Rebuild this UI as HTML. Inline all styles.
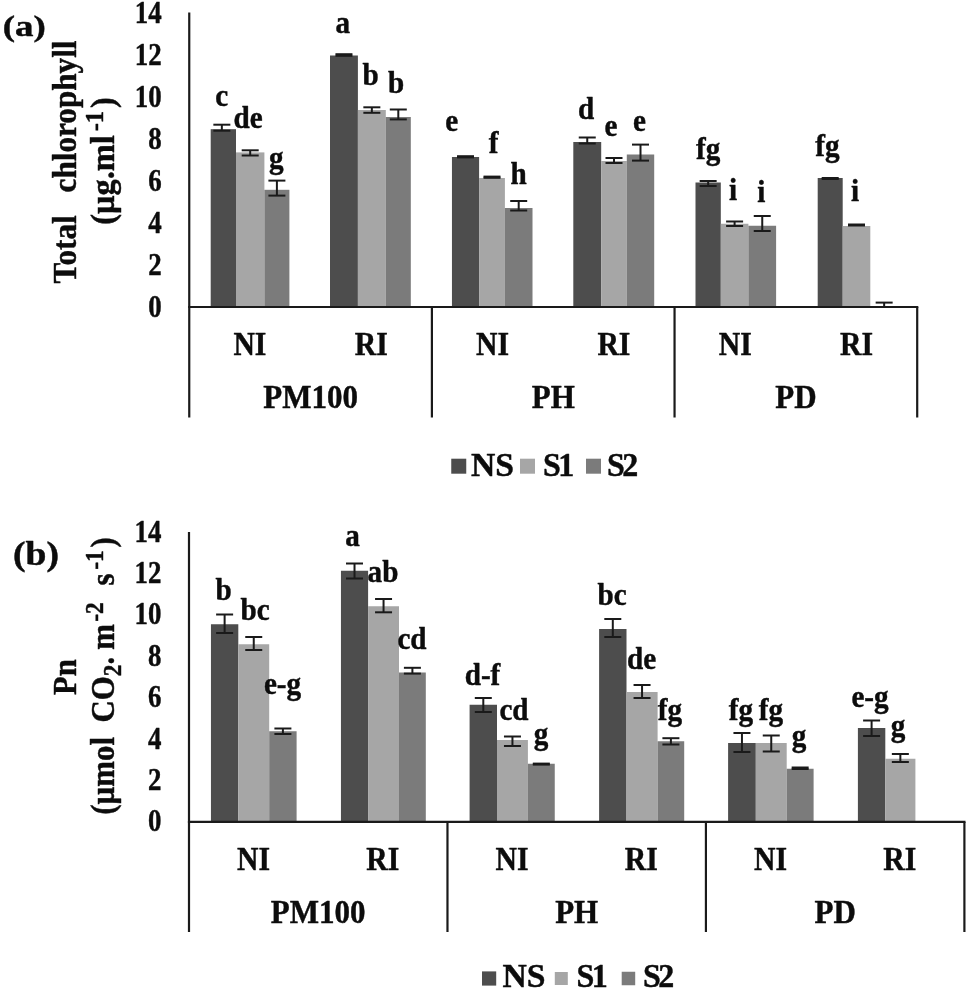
<!DOCTYPE html>
<html lang="en">
<head>
<meta charset="utf-8">
<title>Figure: total chlorophyll and Pn</title>
<style>html,body{margin:0;padding:0;background:#fff}svg{display:block;filter:blur(0.55px)}</style>
</head>
<body>
<svg width="968" height="994" viewBox="0 0 968 994" font-family="'Liberation Serif', serif" font-weight="bold" fill="#0c0c0c" stroke="#0c0c0c" stroke-width="0.45" stroke-linejoin="round">
<rect width="968" height="994" fill="#ffffff" stroke="none"/>
<rect x="210.70" y="129.20" width="25.30" height="177.80" fill="#4d4d4d" stroke="none"/>
<rect x="236.00" y="152.40" width="28.40" height="154.60" fill="#a6a6a6" stroke="none"/>
<rect x="264.40" y="189.80" width="25.00" height="117.20" fill="#7b7b7b" stroke="none"/>
<rect x="330.00" y="55.50" width="27.90" height="251.50" fill="#4d4d4d" stroke="none"/>
<rect x="357.90" y="110.00" width="27.90" height="197.00" fill="#a6a6a6" stroke="none"/>
<rect x="385.80" y="117.00" width="25.00" height="190.00" fill="#7b7b7b" stroke="none"/>
<rect x="451.95" y="157.00" width="27.15" height="150.00" fill="#4d4d4d" stroke="none"/>
<rect x="479.10" y="178.00" width="25.80" height="129.00" fill="#a6a6a6" stroke="none"/>
<rect x="504.90" y="208.00" width="27.60" height="99.00" fill="#7b7b7b" stroke="none"/>
<rect x="573.30" y="142.00" width="27.90" height="165.00" fill="#4d4d4d" stroke="none"/>
<rect x="601.20" y="161.00" width="25.60" height="146.00" fill="#a6a6a6" stroke="none"/>
<rect x="626.80" y="154.50" width="27.40" height="152.50" fill="#7b7b7b" stroke="none"/>
<rect x="695.50" y="182.50" width="25.30" height="124.50" fill="#4d4d4d" stroke="none"/>
<rect x="720.80" y="223.75" width="27.60" height="83.25" fill="#a6a6a6" stroke="none"/>
<rect x="748.40" y="225.75" width="27.70" height="81.25" fill="#7b7b7b" stroke="none"/>
<rect x="817.70" y="178.00" width="25.00" height="129.00" fill="#4d4d4d" stroke="none"/>
<rect x="842.70" y="226.00" width="27.60" height="81.00" fill="#a6a6a6" stroke="none"/>
<line x1="189.25" y1="12.50" x2="189.25" y2="417.50" stroke="#1a1a1a" stroke-width="2.2"/>
<line x1="188.15" y1="307.00" x2="918.30" y2="307.00" stroke="#1a1a1a" stroke-width="2.2"/>
<line x1="431.90" y1="307.00" x2="431.90" y2="417.50" stroke="#1a1a1a" stroke-width="2.2"/>
<line x1="674.55" y1="307.00" x2="674.55" y2="417.50" stroke="#1a1a1a" stroke-width="2.2"/>
<line x1="917.20" y1="307.00" x2="917.20" y2="417.50" stroke="#1a1a1a" stroke-width="2.2"/>
<line x1="221.85" y1="124.70" x2="221.85" y2="130.70" stroke="#1a1a1a" stroke-width="2.0"/>
<line x1="213.35" y1="124.70" x2="230.35" y2="124.70" stroke="#1a1a1a" stroke-width="2.0"/>
<line x1="213.35" y1="130.70" x2="230.35" y2="130.70" stroke="#1a1a1a" stroke-width="2.0"/>
<line x1="250.20" y1="150.30" x2="250.20" y2="155.50" stroke="#1a1a1a" stroke-width="2.0"/>
<line x1="241.70" y1="150.30" x2="258.70" y2="150.30" stroke="#1a1a1a" stroke-width="2.0"/>
<line x1="241.70" y1="155.50" x2="258.70" y2="155.50" stroke="#1a1a1a" stroke-width="2.0"/>
<line x1="276.90" y1="180.60" x2="276.90" y2="195.60" stroke="#1a1a1a" stroke-width="2.0"/>
<line x1="268.40" y1="180.60" x2="285.40" y2="180.60" stroke="#1a1a1a" stroke-width="2.0"/>
<line x1="268.40" y1="195.60" x2="285.40" y2="195.60" stroke="#1a1a1a" stroke-width="2.0"/>
<line x1="343.95" y1="54.20" x2="343.95" y2="55.80" stroke="#1a1a1a" stroke-width="2.0"/>
<line x1="335.45" y1="54.20" x2="352.45" y2="54.20" stroke="#1a1a1a" stroke-width="2.0"/>
<line x1="335.45" y1="55.80" x2="352.45" y2="55.80" stroke="#1a1a1a" stroke-width="2.0"/>
<line x1="371.85" y1="107.30" x2="371.85" y2="112.80" stroke="#1a1a1a" stroke-width="2.0"/>
<line x1="363.35" y1="107.30" x2="380.35" y2="107.30" stroke="#1a1a1a" stroke-width="2.0"/>
<line x1="363.35" y1="112.80" x2="380.35" y2="112.80" stroke="#1a1a1a" stroke-width="2.0"/>
<line x1="398.30" y1="109.50" x2="398.30" y2="119.40" stroke="#1a1a1a" stroke-width="2.0"/>
<line x1="389.80" y1="109.50" x2="406.80" y2="109.50" stroke="#1a1a1a" stroke-width="2.0"/>
<line x1="389.80" y1="119.40" x2="406.80" y2="119.40" stroke="#1a1a1a" stroke-width="2.0"/>
<line x1="465.52" y1="156.20" x2="465.52" y2="157.40" stroke="#1a1a1a" stroke-width="2.0"/>
<line x1="457.02" y1="156.20" x2="474.02" y2="156.20" stroke="#1a1a1a" stroke-width="2.0"/>
<line x1="457.02" y1="157.40" x2="474.02" y2="157.40" stroke="#1a1a1a" stroke-width="2.0"/>
<line x1="492.00" y1="176.60" x2="492.00" y2="177.80" stroke="#1a1a1a" stroke-width="2.0"/>
<line x1="483.50" y1="176.60" x2="500.50" y2="176.60" stroke="#1a1a1a" stroke-width="2.0"/>
<line x1="483.50" y1="177.80" x2="500.50" y2="177.80" stroke="#1a1a1a" stroke-width="2.0"/>
<line x1="518.70" y1="201.00" x2="518.70" y2="210.50" stroke="#1a1a1a" stroke-width="2.0"/>
<line x1="510.20" y1="201.00" x2="527.20" y2="201.00" stroke="#1a1a1a" stroke-width="2.0"/>
<line x1="510.20" y1="210.50" x2="527.20" y2="210.50" stroke="#1a1a1a" stroke-width="2.0"/>
<line x1="587.25" y1="137.50" x2="587.25" y2="143.50" stroke="#1a1a1a" stroke-width="2.0"/>
<line x1="578.75" y1="137.50" x2="595.75" y2="137.50" stroke="#1a1a1a" stroke-width="2.0"/>
<line x1="578.75" y1="143.50" x2="595.75" y2="143.50" stroke="#1a1a1a" stroke-width="2.0"/>
<line x1="614.00" y1="158.00" x2="614.00" y2="163.00" stroke="#1a1a1a" stroke-width="2.0"/>
<line x1="605.50" y1="158.00" x2="622.50" y2="158.00" stroke="#1a1a1a" stroke-width="2.0"/>
<line x1="605.50" y1="163.00" x2="622.50" y2="163.00" stroke="#1a1a1a" stroke-width="2.0"/>
<line x1="640.50" y1="144.60" x2="640.50" y2="160.60" stroke="#1a1a1a" stroke-width="2.0"/>
<line x1="632.00" y1="144.60" x2="649.00" y2="144.60" stroke="#1a1a1a" stroke-width="2.0"/>
<line x1="632.00" y1="160.60" x2="649.00" y2="160.60" stroke="#1a1a1a" stroke-width="2.0"/>
<line x1="708.15" y1="181.00" x2="708.15" y2="186.00" stroke="#1a1a1a" stroke-width="2.0"/>
<line x1="699.65" y1="181.00" x2="716.65" y2="181.00" stroke="#1a1a1a" stroke-width="2.0"/>
<line x1="699.65" y1="186.00" x2="716.65" y2="186.00" stroke="#1a1a1a" stroke-width="2.0"/>
<line x1="734.60" y1="221.50" x2="734.60" y2="226.00" stroke="#1a1a1a" stroke-width="2.0"/>
<line x1="726.10" y1="221.50" x2="743.10" y2="221.50" stroke="#1a1a1a" stroke-width="2.0"/>
<line x1="726.10" y1="226.00" x2="743.10" y2="226.00" stroke="#1a1a1a" stroke-width="2.0"/>
<line x1="762.25" y1="216.00" x2="762.25" y2="231.00" stroke="#1a1a1a" stroke-width="2.0"/>
<line x1="753.75" y1="216.00" x2="770.75" y2="216.00" stroke="#1a1a1a" stroke-width="2.0"/>
<line x1="753.75" y1="231.00" x2="770.75" y2="231.00" stroke="#1a1a1a" stroke-width="2.0"/>
<line x1="830.20" y1="178.00" x2="830.20" y2="179.00" stroke="#1a1a1a" stroke-width="2.0"/>
<line x1="821.70" y1="178.00" x2="838.70" y2="178.00" stroke="#1a1a1a" stroke-width="2.0"/>
<line x1="821.70" y1="179.00" x2="838.70" y2="179.00" stroke="#1a1a1a" stroke-width="2.0"/>
<line x1="856.50" y1="224.50" x2="856.50" y2="225.50" stroke="#1a1a1a" stroke-width="2.0"/>
<line x1="848.00" y1="224.50" x2="865.00" y2="224.50" stroke="#1a1a1a" stroke-width="2.0"/>
<line x1="848.00" y1="225.50" x2="865.00" y2="225.50" stroke="#1a1a1a" stroke-width="2.0"/>
<line x1="884.15" y1="302.60" x2="884.15" y2="307.00" stroke="#1a1a1a" stroke-width="2.0"/>
<line x1="875.65" y1="302.60" x2="892.65" y2="302.60" stroke="#1a1a1a" stroke-width="2.0"/>
<line x1="875.65" y1="307.00" x2="892.65" y2="307.00" stroke="#1a1a1a" stroke-width="2.0"/>
<text transform="translate(161.75 316.50) scale(0.84 1)" font-size="32" text-anchor="end">0</text>
<text transform="translate(161.75 274.50) scale(0.84 1)" font-size="32" text-anchor="end">2</text>
<text transform="translate(161.75 232.50) scale(0.84 1)" font-size="32" text-anchor="end">4</text>
<text transform="translate(161.75 190.50) scale(0.84 1)" font-size="32" text-anchor="end">6</text>
<text transform="translate(161.75 148.50) scale(0.84 1)" font-size="32" text-anchor="end">8</text>
<text transform="translate(161.75 106.50) scale(0.84 1)" font-size="32" text-anchor="end">10</text>
<text transform="translate(161.75 64.50) scale(0.84 1)" font-size="32" text-anchor="end">12</text>
<text transform="translate(161.75 22.50) scale(0.84 1)" font-size="32" text-anchor="end">14</text>
<text transform="translate(221.60 105.50) scale(0.94 1)" font-size="31" text-anchor="middle">c</text>
<text transform="translate(248.00 127.50) scale(0.94 1)" font-size="31" text-anchor="middle">de</text>
<text transform="translate(276.20 168.00) scale(0.94 1)" font-size="31" text-anchor="middle">g</text>
<text transform="translate(342.70 32.50) scale(0.94 1)" font-size="31" text-anchor="middle">a</text>
<text transform="translate(370.60 85.00) scale(0.94 1)" font-size="31" text-anchor="middle">b</text>
<text transform="translate(396.20 92.50) scale(0.94 1)" font-size="31" text-anchor="middle">b</text>
<text transform="translate(451.80 131.25) scale(0.94 1)" font-size="31" text-anchor="middle">e</text>
<text transform="translate(493.50 152.75) scale(0.94 1)" font-size="31" text-anchor="middle">f</text>
<text transform="translate(518.70 183.75) scale(0.94 1)" font-size="31" text-anchor="middle">h</text>
<text transform="translate(586.20 118.75) scale(0.94 1)" font-size="31" text-anchor="middle">d</text>
<text transform="translate(611.00 136.25) scale(0.94 1)" font-size="31" text-anchor="middle">e</text>
<text transform="translate(639.40 131.25) scale(0.94 1)" font-size="31" text-anchor="middle">e</text>
<text transform="translate(708.10 159.00) scale(0.94 1)" font-size="31" text-anchor="middle">fg</text>
<text transform="translate(733.10 199.50) scale(0.94 1)" font-size="31" text-anchor="middle">i</text>
<text transform="translate(761.20 202.00) scale(0.94 1)" font-size="31" text-anchor="middle">i</text>
<text transform="translate(827.50 156.00) scale(0.94 1)" font-size="31" text-anchor="middle">fg</text>
<text transform="translate(855.00 201.00) scale(0.94 1)" font-size="31" text-anchor="middle">i</text>
<text transform="translate(249.91 355.00) scale(0.9 1)" font-size="33" text-anchor="middle">NI</text>
<text transform="translate(371.24 355.00) scale(0.9 1)" font-size="33" text-anchor="middle">RI</text>
<text transform="translate(492.56 355.00) scale(0.9 1)" font-size="33" text-anchor="middle">NI</text>
<text transform="translate(613.89 355.00) scale(0.9 1)" font-size="33" text-anchor="middle">RI</text>
<text transform="translate(735.21 355.00) scale(0.9 1)" font-size="33" text-anchor="middle">NI</text>
<text transform="translate(856.54 355.00) scale(0.9 1)" font-size="33" text-anchor="middle">RI</text>
<text transform="translate(310.57 408.00) scale(0.94 1)" font-size="33" text-anchor="middle">PM100</text>
<text transform="translate(553.23 408.00) scale(0.94 1)" font-size="33" text-anchor="middle">PH</text>
<text transform="translate(795.88 408.00) scale(0.94 1)" font-size="33" text-anchor="middle">PD</text>
<text transform="translate(24.30 35.50) scale(1.23 1)" font-size="30" text-anchor="middle">(a)</text>
<text transform="translate(76.00 162.00) rotate(-90) scale(0.945 1)" font-size="33" text-anchor="middle" word-spacing="16">Total chlorophyll</text>
<text transform="translate(114.00 161.00) rotate(-90) scale(0.98 1)" font-size="33" text-anchor="middle"><tspan dx="0" dy="0">(µg.ml</tspan><tspan font-size="25" dx="4" dy="-11">-1</tspan><tspan dx="3" dy="11">)</tspan></text>
<rect x="451.25" y="458.70" width="15" height="15" fill="#4d4d4d" stroke="none"/>
<text transform="translate(471.00 475.70) scale(1.02 1)" font-size="33" text-anchor="start">NS</text>
<rect x="520.00" y="458.70" width="15" height="15" fill="#a6a6a6" stroke="none"/>
<text transform="translate(543.00 475.70) scale(0.97 1)" font-size="33" text-anchor="start" letter-spacing="-2.5">S1</text>
<rect x="586.00" y="458.70" width="15" height="15" fill="#7b7b7b" stroke="none"/>
<text transform="translate(607.00 475.70) scale(0.97 1)" font-size="33" text-anchor="start" letter-spacing="-2.5">S2</text>
<rect x="210.95" y="624.25" width="27.35" height="197.65" fill="#4d4d4d" stroke="none"/>
<rect x="238.30" y="644.25" width="30.90" height="177.65" fill="#a6a6a6" stroke="none"/>
<rect x="269.20" y="731.25" width="27.40" height="90.65" fill="#7b7b7b" stroke="none"/>
<rect x="340.95" y="570.75" width="27.15" height="251.15" fill="#4d4d4d" stroke="none"/>
<rect x="368.10" y="606.25" width="30.90" height="215.65" fill="#a6a6a6" stroke="none"/>
<rect x="399.00" y="672.50" width="26.80" height="149.40" fill="#7b7b7b" stroke="none"/>
<rect x="469.60" y="704.75" width="27.40" height="117.15" fill="#4d4d4d" stroke="none"/>
<rect x="497.00" y="740.00" width="30.90" height="81.90" fill="#a6a6a6" stroke="none"/>
<rect x="527.90" y="763.75" width="26.85" height="58.15" fill="#7b7b7b" stroke="none"/>
<rect x="599.10" y="629.00" width="27.40" height="192.90" fill="#4d4d4d" stroke="none"/>
<rect x="626.50" y="692.00" width="31.10" height="129.90" fill="#a6a6a6" stroke="none"/>
<rect x="657.60" y="741.25" width="26.60" height="80.65" fill="#7b7b7b" stroke="none"/>
<rect x="728.10" y="743.00" width="27.70" height="78.90" fill="#4d4d4d" stroke="none"/>
<rect x="755.80" y="743.00" width="30.90" height="78.90" fill="#a6a6a6" stroke="none"/>
<rect x="786.70" y="768.75" width="26.90" height="53.15" fill="#7b7b7b" stroke="none"/>
<rect x="857.90" y="728.00" width="27.40" height="93.90" fill="#4d4d4d" stroke="none"/>
<rect x="885.30" y="758.75" width="30.10" height="63.15" fill="#a6a6a6" stroke="none"/>
<line x1="189.00" y1="532.00" x2="189.00" y2="932.00" stroke="#1a1a1a" stroke-width="2.2"/>
<line x1="187.90" y1="821.90" x2="965.50" y2="821.90" stroke="#1a1a1a" stroke-width="2.2"/>
<line x1="447.47" y1="821.90" x2="447.47" y2="932.00" stroke="#1a1a1a" stroke-width="2.2"/>
<line x1="705.93" y1="821.90" x2="705.93" y2="932.00" stroke="#1a1a1a" stroke-width="2.2"/>
<line x1="964.40" y1="821.90" x2="964.40" y2="932.00" stroke="#1a1a1a" stroke-width="2.2"/>
<line x1="224.62" y1="614.50" x2="224.62" y2="633.00" stroke="#1a1a1a" stroke-width="2.0"/>
<line x1="216.12" y1="614.50" x2="233.12" y2="614.50" stroke="#1a1a1a" stroke-width="2.0"/>
<line x1="216.12" y1="633.00" x2="233.12" y2="633.00" stroke="#1a1a1a" stroke-width="2.0"/>
<line x1="253.75" y1="637.00" x2="253.75" y2="650.00" stroke="#1a1a1a" stroke-width="2.0"/>
<line x1="245.25" y1="637.00" x2="262.25" y2="637.00" stroke="#1a1a1a" stroke-width="2.0"/>
<line x1="245.25" y1="650.00" x2="262.25" y2="650.00" stroke="#1a1a1a" stroke-width="2.0"/>
<line x1="282.90" y1="728.50" x2="282.90" y2="734.00" stroke="#1a1a1a" stroke-width="2.0"/>
<line x1="274.40" y1="728.50" x2="291.40" y2="728.50" stroke="#1a1a1a" stroke-width="2.0"/>
<line x1="274.40" y1="734.00" x2="291.40" y2="734.00" stroke="#1a1a1a" stroke-width="2.0"/>
<line x1="354.52" y1="563.50" x2="354.52" y2="578.50" stroke="#1a1a1a" stroke-width="2.0"/>
<line x1="346.02" y1="563.50" x2="363.02" y2="563.50" stroke="#1a1a1a" stroke-width="2.0"/>
<line x1="346.02" y1="578.50" x2="363.02" y2="578.50" stroke="#1a1a1a" stroke-width="2.0"/>
<line x1="383.55" y1="599.00" x2="383.55" y2="612.30" stroke="#1a1a1a" stroke-width="2.0"/>
<line x1="375.05" y1="599.00" x2="392.05" y2="599.00" stroke="#1a1a1a" stroke-width="2.0"/>
<line x1="375.05" y1="612.30" x2="392.05" y2="612.30" stroke="#1a1a1a" stroke-width="2.0"/>
<line x1="412.40" y1="667.80" x2="412.40" y2="673.60" stroke="#1a1a1a" stroke-width="2.0"/>
<line x1="403.90" y1="667.80" x2="420.90" y2="667.80" stroke="#1a1a1a" stroke-width="2.0"/>
<line x1="403.90" y1="673.60" x2="420.90" y2="673.60" stroke="#1a1a1a" stroke-width="2.0"/>
<line x1="483.30" y1="698.00" x2="483.30" y2="712.00" stroke="#1a1a1a" stroke-width="2.0"/>
<line x1="474.80" y1="698.00" x2="491.80" y2="698.00" stroke="#1a1a1a" stroke-width="2.0"/>
<line x1="474.80" y1="712.00" x2="491.80" y2="712.00" stroke="#1a1a1a" stroke-width="2.0"/>
<line x1="512.45" y1="736.50" x2="512.45" y2="746.00" stroke="#1a1a1a" stroke-width="2.0"/>
<line x1="503.95" y1="736.50" x2="520.95" y2="736.50" stroke="#1a1a1a" stroke-width="2.0"/>
<line x1="503.95" y1="746.00" x2="520.95" y2="746.00" stroke="#1a1a1a" stroke-width="2.0"/>
<line x1="541.33" y1="763.60" x2="541.33" y2="764.60" stroke="#1a1a1a" stroke-width="2.0"/>
<line x1="532.83" y1="763.60" x2="549.83" y2="763.60" stroke="#1a1a1a" stroke-width="2.0"/>
<line x1="532.83" y1="764.60" x2="549.83" y2="764.60" stroke="#1a1a1a" stroke-width="2.0"/>
<line x1="612.80" y1="619.00" x2="612.80" y2="637.00" stroke="#1a1a1a" stroke-width="2.0"/>
<line x1="604.30" y1="619.00" x2="621.30" y2="619.00" stroke="#1a1a1a" stroke-width="2.0"/>
<line x1="604.30" y1="637.00" x2="621.30" y2="637.00" stroke="#1a1a1a" stroke-width="2.0"/>
<line x1="642.05" y1="685.00" x2="642.05" y2="698.00" stroke="#1a1a1a" stroke-width="2.0"/>
<line x1="633.55" y1="685.00" x2="650.55" y2="685.00" stroke="#1a1a1a" stroke-width="2.0"/>
<line x1="633.55" y1="698.00" x2="650.55" y2="698.00" stroke="#1a1a1a" stroke-width="2.0"/>
<line x1="670.90" y1="738.20" x2="670.90" y2="744.50" stroke="#1a1a1a" stroke-width="2.0"/>
<line x1="662.40" y1="738.20" x2="679.40" y2="738.20" stroke="#1a1a1a" stroke-width="2.0"/>
<line x1="662.40" y1="744.50" x2="679.40" y2="744.50" stroke="#1a1a1a" stroke-width="2.0"/>
<line x1="741.95" y1="733.00" x2="741.95" y2="752.00" stroke="#1a1a1a" stroke-width="2.0"/>
<line x1="733.45" y1="733.00" x2="750.45" y2="733.00" stroke="#1a1a1a" stroke-width="2.0"/>
<line x1="733.45" y1="752.00" x2="750.45" y2="752.00" stroke="#1a1a1a" stroke-width="2.0"/>
<line x1="771.25" y1="735.50" x2="771.25" y2="751.50" stroke="#1a1a1a" stroke-width="2.0"/>
<line x1="762.75" y1="735.50" x2="779.75" y2="735.50" stroke="#1a1a1a" stroke-width="2.0"/>
<line x1="762.75" y1="751.50" x2="779.75" y2="751.50" stroke="#1a1a1a" stroke-width="2.0"/>
<line x1="800.15" y1="767.50" x2="800.15" y2="769.00" stroke="#1a1a1a" stroke-width="2.0"/>
<line x1="791.65" y1="767.50" x2="808.65" y2="767.50" stroke="#1a1a1a" stroke-width="2.0"/>
<line x1="791.65" y1="769.00" x2="808.65" y2="769.00" stroke="#1a1a1a" stroke-width="2.0"/>
<line x1="871.60" y1="720.50" x2="871.60" y2="736.00" stroke="#1a1a1a" stroke-width="2.0"/>
<line x1="863.10" y1="720.50" x2="880.10" y2="720.50" stroke="#1a1a1a" stroke-width="2.0"/>
<line x1="863.10" y1="736.00" x2="880.10" y2="736.00" stroke="#1a1a1a" stroke-width="2.0"/>
<line x1="900.35" y1="754.00" x2="900.35" y2="762.00" stroke="#1a1a1a" stroke-width="2.0"/>
<line x1="891.85" y1="754.00" x2="908.85" y2="754.00" stroke="#1a1a1a" stroke-width="2.0"/>
<line x1="891.85" y1="762.00" x2="908.85" y2="762.00" stroke="#1a1a1a" stroke-width="2.0"/>
<text transform="translate(161.50 831.40) scale(0.84 1)" font-size="32" text-anchor="end">0</text>
<text transform="translate(161.50 790.00) scale(0.84 1)" font-size="32" text-anchor="end">2</text>
<text transform="translate(161.50 748.60) scale(0.84 1)" font-size="32" text-anchor="end">4</text>
<text transform="translate(161.50 707.20) scale(0.84 1)" font-size="32" text-anchor="end">6</text>
<text transform="translate(161.50 665.80) scale(0.84 1)" font-size="32" text-anchor="end">8</text>
<text transform="translate(161.50 624.40) scale(0.84 1)" font-size="32" text-anchor="end">10</text>
<text transform="translate(161.50 583.00) scale(0.84 1)" font-size="32" text-anchor="end">12</text>
<text transform="translate(161.50 541.60) scale(0.84 1)" font-size="32" text-anchor="end">14</text>
<text transform="translate(223.50 599.50) scale(0.94 1)" font-size="31" text-anchor="middle">b</text>
<text transform="translate(255.00 619.50) scale(0.94 1)" font-size="31" text-anchor="middle">bc</text>
<text transform="translate(282.50 694.00) scale(0.94 1)" font-size="31" text-anchor="middle">e-g</text>
<text transform="translate(352.50 545.50) scale(0.94 1)" font-size="31" text-anchor="middle">a</text>
<text transform="translate(383.00 581.70) scale(0.94 1)" font-size="31" text-anchor="middle">ab</text>
<text transform="translate(412.00 648.50) scale(0.94 1)" font-size="31" text-anchor="middle">cd</text>
<text transform="translate(482.50 684.50) scale(0.94 1)" font-size="31" text-anchor="middle">d-f</text>
<text transform="translate(514.00 720.00) scale(0.94 1)" font-size="31" text-anchor="middle">cd</text>
<text transform="translate(541.00 743.50) scale(0.94 1)" font-size="31" text-anchor="middle">g</text>
<text transform="translate(612.00 605.00) scale(0.94 1)" font-size="31" text-anchor="middle">bc</text>
<text transform="translate(641.50 669.00) scale(0.94 1)" font-size="31" text-anchor="middle">de</text>
<text transform="translate(670.00 720.00) scale(0.94 1)" font-size="31" text-anchor="middle">fg</text>
<text transform="translate(741.00 720.00) scale(0.94 1)" font-size="31" text-anchor="middle">fg</text>
<text transform="translate(771.00 720.00) scale(0.94 1)" font-size="31" text-anchor="middle">fg</text>
<text transform="translate(799.00 746.00) scale(0.94 1)" font-size="31" text-anchor="middle">g</text>
<text transform="translate(870.00 706.50) scale(0.94 1)" font-size="31" text-anchor="middle">e-g</text>
<text transform="translate(898.00 736.00) scale(0.94 1)" font-size="31" text-anchor="middle">g</text>
<text transform="translate(253.62 869.90) scale(0.9 1)" font-size="33" text-anchor="middle">NI</text>
<text transform="translate(382.85 869.90) scale(0.9 1)" font-size="33" text-anchor="middle">RI</text>
<text transform="translate(512.08 869.90) scale(0.9 1)" font-size="33" text-anchor="middle">NI</text>
<text transform="translate(641.32 869.90) scale(0.9 1)" font-size="33" text-anchor="middle">RI</text>
<text transform="translate(770.55 869.90) scale(0.9 1)" font-size="33" text-anchor="middle">NI</text>
<text transform="translate(899.78 869.90) scale(0.9 1)" font-size="33" text-anchor="middle">RI</text>
<text transform="translate(318.23 922.90) scale(0.94 1)" font-size="33" text-anchor="middle">PM100</text>
<text transform="translate(576.70 922.90) scale(0.94 1)" font-size="33" text-anchor="middle">PH</text>
<text transform="translate(835.17 922.90) scale(0.94 1)" font-size="33" text-anchor="middle">PD</text>
<text transform="translate(36.00 565.00) scale(1.14 1)" font-size="33" text-anchor="middle">(b)</text>
<text transform="translate(75.50 677.00) rotate(-90) scale(0.93 1)" font-size="33" text-anchor="middle">Pn</text>
<text transform="translate(114.00 676.00) rotate(-90) scale(0.934 1)" font-size="33" text-anchor="middle"><tspan dx="0" dy="0">(µmol</tspan><tspan dx="15.7" dy="0">CO</tspan><tspan font-size="25" dx="0" dy="7">2</tspan><tspan dx="0" dy="-7">.</tspan><tspan dx="7.5" dy="0">m</tspan><tspan font-size="25" dx="2.5" dy="-11">-2</tspan><tspan dx="18" dy="11">s</tspan><tspan font-size="25" dx="4" dy="-11">-1</tspan><tspan dx="3" dy="11">)</tspan></text>
<rect x="482.00" y="971.40" width="14.2" height="14.2" fill="#4d4d4d" stroke="none"/>
<text transform="translate(502.50 987.20) scale(1.02 1)" font-size="33" text-anchor="start">NS</text>
<rect x="554.80" y="972.00" width="13" height="13" fill="#a6a6a6" stroke="none"/>
<text transform="translate(576.50 987.20) scale(0.97 1)" font-size="33" text-anchor="start" letter-spacing="-2.5">S1</text>
<rect x="621.70" y="971.75" width="13.5" height="13.5" fill="#7b7b7b" stroke="none"/>
<text transform="translate(643.00 987.20) scale(0.97 1)" font-size="33" text-anchor="start" letter-spacing="-2.5">S2</text>
</svg>
</body>
</html>
